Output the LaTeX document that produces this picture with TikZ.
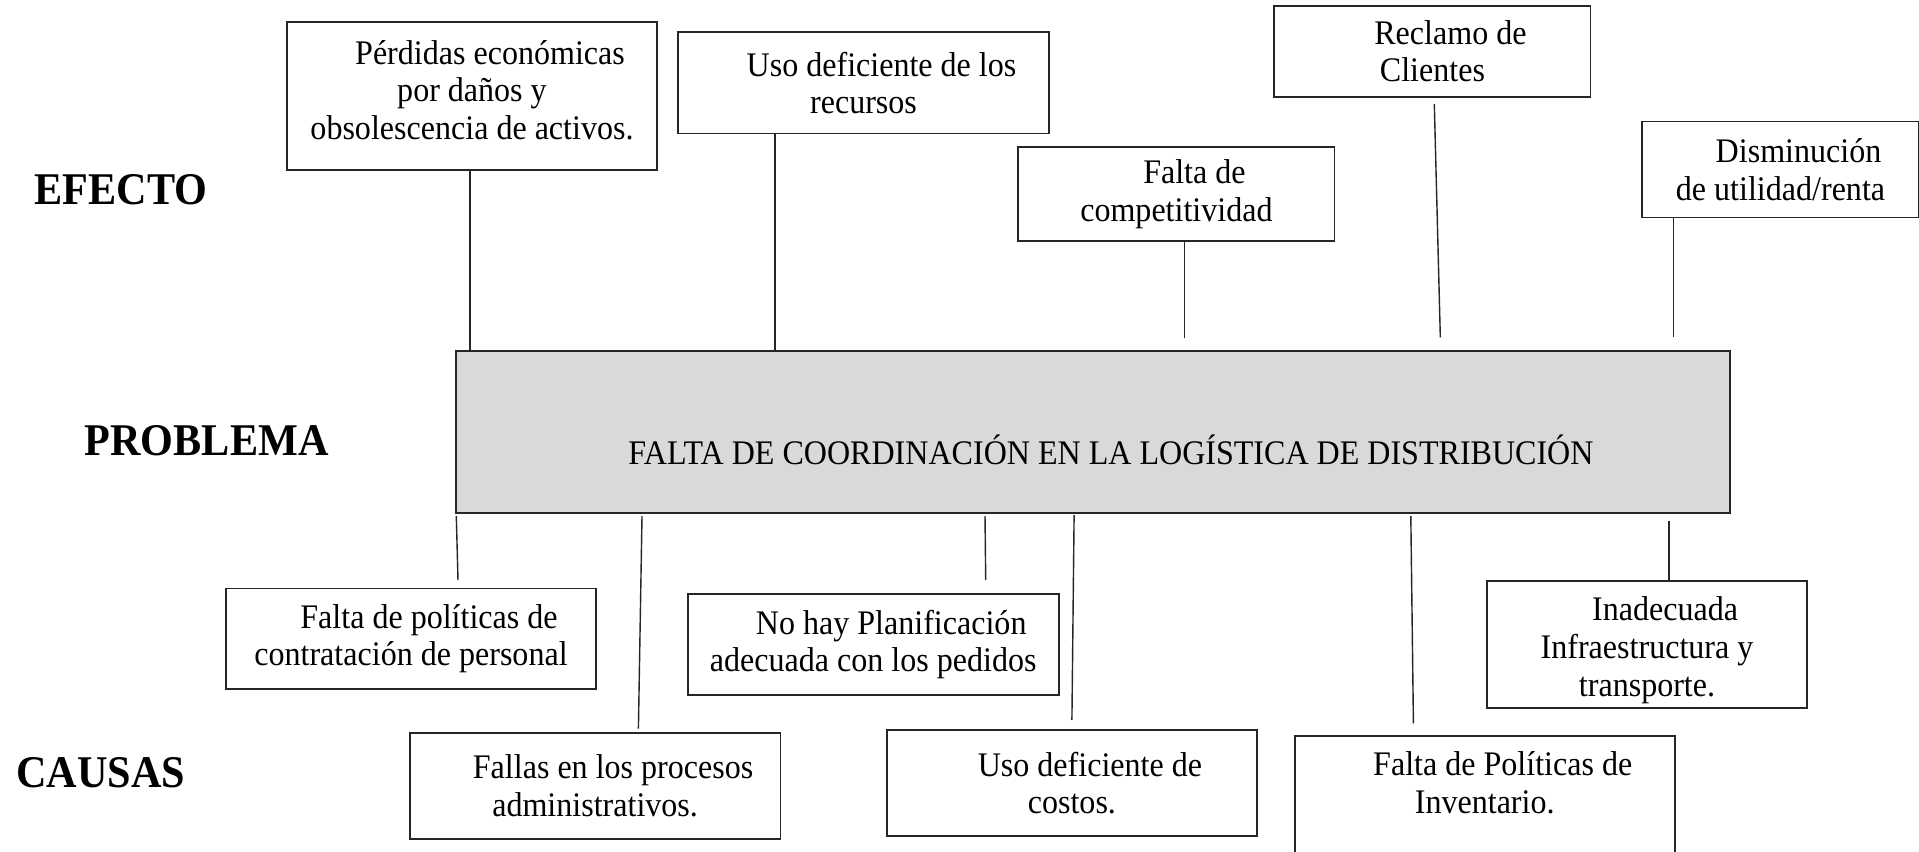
\documentclass[tikz,border=0pt]{standalone}
\usepackage{fontspec}
\setmainfont{Liberation Serif}[FakeStretch=0.93]
\newcommand{\sangria}{\hspace*{0.36cm}}
\begin{document}
\begin{tikzpicture}[x=0.01cm, y=-0.01cm,
		caja/.style={draw=black!85, line width=0.55pt, align=center, inner sep=0pt, font=\fontsize{9.8}{10.67}\selectfont},
		titulo/.style={anchor=west, inner sep=0pt, font=\fontsize{12.9}{14}\selectfont\bfseries},
		linea/.style={draw=black!85, line width=0.4pt}]
	\useasboundingbox (0,0) rectangle (1919,852);
	\clip (0,0) rectangle (1919,852);
	\node[titulo] (efecto) at (34,190) {EFECTO};
	\node[titulo] (problema) at (84,441) {PROBLEMA};
	\node[titulo] (causas) at (15.6,772.5) {CAUSAS};
	% problema central
	\node[caja, fill=gray!30, minimum width=12.73cm, minimum height=1.618cm, text height=0.646cm, text depth=0pt] (prob) at (1093,432) {\sangria FALTA DE COORDINACIÓN EN LA LOGÍSTICA DE DISTRIBUCIÓN};
	% efectos
	\node[caja, minimum width=3.70cm, minimum height=1.48cm, text depth=0.12cm] (ef1) at (472,96) {\sangria Pérdidas económicas\\por daños y\\obsolescencia de activos.};
	\node[caja, minimum width=3.71cm, minimum height=1.01cm] (ef2) at (863.5,83) {\sangria Uso deficiente de los\\recursos};
	\node[caja, minimum width=3.16cm, minimum height=0.94cm] (ef3) at (1176.4,194.2) {\sangria Falta de\\competitividad};
	\node[caja, minimum width=3.16cm, minimum height=0.91cm] (ef4) at (1432.4,51.3) {\sangria Reclamo de\\Clientes};
	\node[caja, minimum width=2.76cm, minimum height=0.96cm] (ef5) at (1780.5,169.5) {\sangria Disminución\\de utilidad/renta};
	% causas
	\node[caja, minimum width=3.70cm, minimum height=1.00cm] (ca1) at (411,638.5) {\sangria Falta de políticas de\\contratación de personal};
	\node[caja, minimum width=3.706cm, minimum height=1.06cm] (ca2) at (595.1,785.7) {\sangria Fallas en los procesos\\administrativos.};
	\node[caja, minimum width=3.706cm, minimum height=1.007cm] (ca3) at (873.2,644.7) {\sangria No hay Planificación\\adecuada con los pedidos};
	\node[caja, minimum width=3.705cm, minimum height=1.06cm] (ca4) at (1071.9,783) {\sangria Uso deficiente de\\costos.};
	\node[caja, minimum width=3.194cm, minimum height=1.276cm, text height=1.03cm, text depth=0pt] (ca5) at (1647,644.5) {\sangria Inadecuada\\Infraestructura y\\transporte.};
	\node[caja, anchor=north, minimum width=3.797cm, text height=0.77cm, text depth=1.2cm] (ca6) at (1484.7,735) {\sangria Falta de Políticas de\\Inventario.};
	% conectores de efectos
	\coordinate (a1) at (470,351);
	\coordinate (a2) at (775,351);
	\coordinate (a3) at (1184.4,338);
	\coordinate (s4) at (1434.3,104);
	\coordinate (a4) at (1440.3,337.3);
	\coordinate (a5) at (1673.3,337);
	\draw[linea] (ef1.south -| a1) -- (a1);
	\draw[linea] (ef2.south -| a2) -- (a2);
	\draw[linea] (ef3.south -| a3) -- (a3);
	\draw[linea] (s4) -- (a4);
	\draw[linea] (ef5.south -| a5) -- (a5);
	% conectores de causas
	\coordinate (b1) at (456.3,516);
	\coordinate (d1) at (458,580);
	\coordinate (b2) at (642,516);
	\coordinate (d2) at (638.4,728.7);
	\coordinate (b3) at (985,516);
	\coordinate (d3) at (985.7,580);
	\coordinate (b4) at (1074.1,515);
	\coordinate (d4) at (1071.9,720);
	\coordinate (b5) at (1669,521);
	\coordinate (b6) at (1410.8,516);
	\coordinate (d6) at (1413.4,723.3);
	\draw[linea] (b1) -- (d1);
	\draw[linea] (b2) -- (d2);
	\draw[linea] (b3) -- (d3);
	\draw[linea] (b4) -- (d4);
	\draw[linea] (b5) -- (ca5.north -| b5);
	\draw[linea] (b6) -- (d6);
\end{tikzpicture}
\end{document}
